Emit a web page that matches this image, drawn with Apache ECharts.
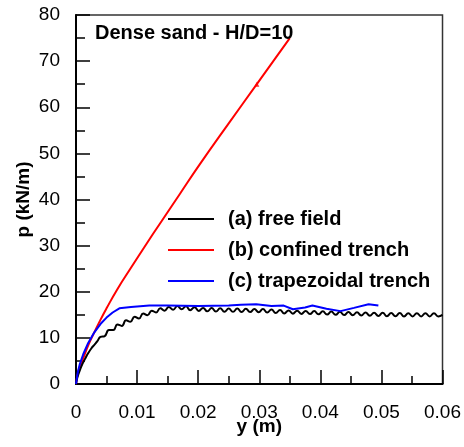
<!DOCTYPE html>
<html>
<head>
<meta charset="utf-8">
<script src="https://cdn.jsdelivr.net/npm/echarts@6/dist/echarts.min.js"></script>
<style>html,body{margin:0;padding:0;background:#fff;}#c{width:464px;height:447px;}</style>
</head>
<body>
<div id="c"></div>
<script>
var xTicks = [0, 0.01, 0.02, 0.03, 0.04, 0.05, 0.06];
var yTicks = [0, 10, 20, 30, 40, 50, 60, 70, 80];
var seriesNames = ['(a) free field', '(b) confined trench', '(c) trapezoidal trench'];

var freeX = [0,0.0002,0.0005,0.001,0.0015,0.002,0.0025,0.003,0.0035,
  0.0040,0.0047,0.0054,0.0061,0.0068,0.0075,0.0082,0.0089,0.0096,0.0103,
  0.0110,0.0117,0.0124,0.0131,0.0138,0.0145,0.0152,0.0159,0.0166,0.0173,
  0.0180,0.0187,0.0194,0.0201,0.0208,0.0215,0.0222,0.0229,0.0236,0.0243,
  0.0250,0.0257,0.0264,0.0271,0.0278,0.0285,0.0292,0.0299,0.0306,0.0313,
  0.0320,0.0327,0.0334,0.0341,0.0348,0.0355,0.0362,0.0369,0.0376,0.0383,
  0.0390,0.0397,0.0404,0.0411,0.0418,0.0425,0.0432,0.0439,0.0446,0.0453,
  0.0460,0.0467,0.0474,0.0481,0.0488,0.0495,0.0502,0.0509,0.0516,0.0523,
  0.0530,0.0537,0.0544,0.0551,0.0558,0.0565,0.0572,0.0579,0.0586,0.0593,0.0600];
var freeP = [0,1.3,2.5,4.2,5.5,6.7,7.7,8.5,9.3,
  10.2,10.4,11.7,11.7,12.9,12.6,13.8,13.5,14.6,14.2,
  15.3,14.9,15.9,15.5,16.4,15.9,16.7,16.1,16.9,16.2,
  16.85,16.0,16.65,15.85,16.5,15.75,16.45,15.7,16.4,15.65,
  16.35,15.65,16.35,15.6,16.3,15.6,16.25,15.55,16.25,15.5,
  16.15,15.4,16.05,15.3,15.95,15.25,15.9,15.2,15.85,15.15,
  15.8,15.1,15.75,15.05,15.7,15.0,15.65,14.95,15.6,14.9,
  15.55,14.85,15.5,14.8,15.45,14.75,15.45,14.7,15.4,14.7,
  15.4,14.65,15.35,14.65,15.35,14.65,15.35,14.65,15.35,14.65,15.0];

var confX = [0,0.0003,0.0007,0.0013,0.002,0.003,0.004,0.005,0.0067,0.009,0.0115,0.0137,0.017,0.0202,0.025,0.0296,0.035];
var confP = [0,2.2,4.0,6.0,8.4,11.2,13.9,16.4,20.4,25.2,30.3,34.7,41.2,47.5,56.5,65.0,75.0];
var confMarkX = [0.0296];
var confMarkP = [65.0];

var trapX = [0,0.0003,0.0006,0.0012,0.002,0.003,0.004,0.005,0.006,0.0071,0.009,0.012,0.015,0.02,0.025,0.027,0.0295,0.032,0.034,0.0355,0.0375,0.0387,0.041,0.0433,0.0455,0.0479,0.0495];
var trapP = [0,2.6,4.2,6.5,8.9,11.2,13.0,14.4,15.5,16.4,16.7,17.0,17.0,16.9,17.0,17.2,17.3,16.9,17.0,16.2,16.6,17.0,16.3,15.8,16.5,17.3,17.0];

function zip(a, b) { return a.map(function (v, i) { return [v, b[i]]; }); }

var chart = echarts.init(document.getElementById('c'), null, {renderer: 'canvas'});
var font = 'Arial, "Liberation Sans", sans-serif';
chart.setOption({
  animation: false,
  backgroundColor: '#fff',
  grid: {left: 76, right: 19, top: 15, bottom: 63, show: true, borderColor: '#333', borderWidth: 1.5, backgroundColor: 'transparent'},
  title: {text: 'Dense sand - H/D=10', left: 90, top: 18, textStyle: {fontFamily: font, fontSize: 20, fontWeight: 'bold', color: '#000'}},
  legend: {
    orient: 'vertical', left: 163, top: 204, itemWidth: 46, itemHeight: 2, itemGap: 11, icon: 'rect',
    data: seriesNames,
    textStyle: {fontFamily: font, fontSize: 20, fontWeight: 'bold', color: '#000', lineHeight: 20, padding: [0, 0, 0, 9]}
  },
  xAxis: {
    type: 'value', min: 0, max: 0.06, interval: 0.01,
    name: 'y (m)', nameLocation: 'middle', nameGap: 33, nameMoveOverlap: false,
    nameTextStyle: {fontFamily: font, fontSize: 19, fontWeight: 'bold', color: '#000'},
    axisLine: {show: true, lineStyle: {color: '#000', width: 2}},
    axisTick: {show: true, inside: true, length: 14, lineStyle: {color: '#000', width: 1.5}},
    minorTick: {show: true, splitNumber: 2, length: 8, lineStyle: {color: '#000', width: 1.5}},
    splitLine: {show: false},
    axisLabel: {fontFamily: font, fontSize: 19, color: '#000', margin: 19,
      formatter: function (v) { var i = xTicks.indexOf(Math.round(v * 1000) / 1000); return i >= 0 ? String(xTicks[i]) : ''; }}
  },
  yAxis: {
    type: 'value', min: 0, max: 80, interval: 10,
    name: 'p (kN/m)', nameLocation: 'middle', nameGap: 43, nameRotate: 90, nameMoveOverlap: false,
    nameTextStyle: {fontFamily: font, fontSize: 19, fontWeight: 'bold', color: '#000'},
    axisLine: {show: true, lineStyle: {color: '#000', width: 2}},
    axisTick: {show: true, inside: true, length: 14, lineStyle: {color: '#000', width: 1.5}},
    minorTick: {show: true, splitNumber: 2, length: 9, lineStyle: {color: '#000', width: 1.5}},
    splitLine: {show: false},
    axisLabel: {fontFamily: font, fontSize: 19, color: '#000', margin: 16,
      formatter: function (v) { return yTicks.indexOf(v) >= 0 ? String(v) : ''; }}
  },
  series: [
    {name: seriesNames[0], type: 'line', data: zip(freeX, freeP), showSymbol: false, symbol: 'none', smooth: 0.5,
      lineStyle: {color: '#000', width: 2}, itemStyle: {color: '#000'}, z: 3},
    {name: seriesNames[1], type: 'line', data: zip(confX, confP), showSymbol: false, symbol: 'none', smooth: true,
      lineStyle: {color: '#ff0000', width: 2}, itemStyle: {color: '#ff0000'}, z: 2},
    {name: seriesNames[2], type: 'line', data: zip(trapX, trapP), showSymbol: false, symbol: 'none', smooth: false,
      lineStyle: {color: '#0000ff', width: 2}, itemStyle: {color: '#0000ff'}, z: 4},
    {name: 'confMark', type: 'scatter', data: zip(confMarkX, confMarkP), symbol: 'triangle', symbolSize: 5,
      itemStyle: {color: '#ff0000'}, z: 5, silent: true}
  ]
});
</script>
</body>
</html>
